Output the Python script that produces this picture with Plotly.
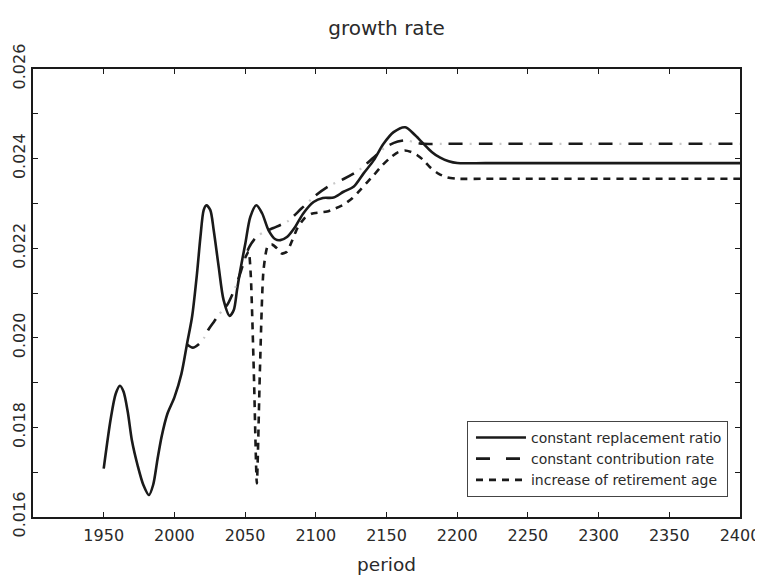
import plotly.graph_objects as go

# ---- data ----
years_replacement = [1950, 1955, 1958.5, 1961.5, 1964, 1967, 1970, 1974, 1978, 1982, 1985, 1988,
                     1991, 1995, 2000, 2005, 2009, 2012.5, 2016, 2018.4, 2020.7, 2022.6, 2025.4,
                     2027.8, 2031.3, 2034.8, 2039.1, 2042, 2044.3, 2046.6, 2050.2, 2053.7, 2058,
                     2062, 2066.6, 2071.4, 2074.9, 2079.6, 2085.5, 2091, 2098.4, 2105, 2112.6,
                     2119.6, 2126.7, 2133.8, 2140.9, 2147.9, 2155, 2163.3, 2170.3, 2176.2, 2182,
                     2188, 2194, 2200, 2220, 2260, 2300, 2350, 2400]
values_replacement = [0.01708, 0.01820, 0.01875, 0.01893, 0.01880, 0.01835, 0.01770, 0.01715,
                      0.01672, 0.01649, 0.01672, 0.01728, 0.01780, 0.01830, 0.01867, 0.01920,
                      0.01988, 0.02047, 0.02144, 0.02225, 0.02285, 0.02296, 0.02285, 0.02240,
                      0.02159, 0.02084, 0.02049, 0.02062, 0.02107, 0.02151, 0.02211, 0.02270,
                      0.02296, 0.02278, 0.02240, 0.02220, 0.02218, 0.02225, 0.02248, 0.02277,
                      0.02303, 0.02312, 0.02313, 0.02326, 0.02337, 0.02367, 0.02396, 0.02433,
                      0.02459, 0.02470, 0.02452, 0.02433, 0.02415, 0.02402, 0.02394, 0.02390,
                      0.02390, 0.02390, 0.02390, 0.02390, 0.02390]

years_contribution = [2009, 2013, 2017, 2021, 2024, 2028, 2031, 2035, 2038, 2043, 2047, 2050,
                      2053, 2058, 2064, 2070, 2080, 2090, 2100, 2110, 2120, 2130, 2140, 2150,
                      2158, 2164, 2170, 2176, 2190, 2220, 2260, 2300, 2350, 2400]
values_contribution = [0.01985, 0.01978, 0.01985, 0.02000, 0.02018, 0.02036, 0.02050, 0.02064,
                       0.02077, 0.02112, 0.02148, 0.02178, 0.02203, 0.02225, 0.02237, 0.02245,
                       0.02260, 0.02289, 0.02318, 0.02340, 0.02355, 0.02373, 0.02400, 0.02427,
                       0.02438, 0.02441, 0.02436, 0.02433, 0.02433, 0.02433, 0.02433, 0.02433,
                       0.02433, 0.02433]

years_retirement = [2050, 2052.5, 2054, 2056.2, 2058.3, 2060.5, 2063, 2066, 2069, 2072.5, 2076,
                    2079.5, 2083, 2087, 2092, 2097, 2103, 2108, 2114, 2120, 2126, 2130, 2136,
                    2141, 2147, 2153, 2158, 2163, 2168, 2172, 2176, 2181, 2187, 2193, 2200,
                    2220, 2260, 2300, 2350, 2400]
values_retirement = [0.02178, 0.02192, 0.02140, 0.01920, 0.01675, 0.01930, 0.02150, 0.02205,
                     0.02208, 0.02200, 0.02188, 0.02192, 0.02215, 0.02245, 0.02267, 0.02277,
                     0.02280, 0.02282, 0.02289, 0.02298, 0.02312, 0.02325, 0.02346, 0.02363,
                     0.02385, 0.02403, 0.02414, 0.02418, 0.02414, 0.02407, 0.02397, 0.02380,
                     0.02366, 0.02358, 0.02355, 0.02355, 0.02355, 0.02355, 0.02355, 0.02355]

series_names = ["constant replacement ratio", "constant contribution rate",
                "increase of retirement age"]

x_tickvals = [1950, 2000, 2050, 2100, 2150, 2200, 2250, 2300, 2350, 2400]
y_tickvals = [0.016, 0.018, 0.020, 0.022, 0.024, 0.026]
y_ticktext = ["0.016", "0.018", "0.020", "0.022", "0.024", "0.026"]
y_minor = [0.017, 0.019, 0.021, 0.023, 0.025]

FONT = "DejaVu Sans"
TXT = "#2a2a2a"
INK = "#1a1a1a"

# the page body adds an 8px margin at the top-left; size the figure so the plot
# area lands where the reference has it (x 33..740, y 69..517 in the window)
W, H = 763, 567

fig = go.Figure()

fig.add_trace(go.Scatter(
    x=years_replacement, y=values_replacement, mode="lines", name=series_names[0],
    line=dict(color=INK, width=2.6, shape="spline", smoothing=0.8)))

# faint dots between the long dashes of the dash-dot line
fig.add_trace(go.Scatter(
    x=years_contribution, y=values_contribution, mode="lines", showlegend=False,
    hoverinfo="skip",
    line=dict(color="#c8c8c8", width=2.2, shape="spline", smoothing=0.8,
              dash="0px,21px,2px,7px")))
fig.add_trace(go.Scatter(
    x=years_contribution, y=values_contribution, mode="lines", name=series_names[1],
    line=dict(color=INK, width=2.6, shape="spline", smoothing=0.8,
              dash="14px,16px")))

fig.add_trace(go.Scatter(
    x=years_retirement, y=values_retirement, mode="lines", name=series_names[2],
    line=dict(color=INK, width=2.6, shape="spline", smoothing=0.6,
              dash="7px,6px")))

axis_common = dict(
    showgrid=False, zeroline=False, showline=True, linecolor=INK, linewidth=2,
    mirror="ticks", ticks="inside", ticklen=5, tickwidth=1, tickcolor=INK,
    tickfont=dict(family=FONT, size=16, color=TXT),
    automargin=False, ticklabeloverflow="allow",
)

fig.update_layout(
    width=W, height=H,
    margin=dict(l=25, r=31, t=61, b=58),
    paper_bgcolor="white", plot_bgcolor="white",
    title=dict(text="growth rate", x=0.5, xref="paper", xanchor="center",
               y=1 - 20 / H, yref="container", yanchor="middle",
               font=dict(family=FONT, size=20, color=TXT)),
    xaxis=dict(range=[1900, 2400], tickmode="array", tickvals=x_tickvals,
               ticktext=[str(v) for v in x_tickvals],
               title=dict(text="period", standoff=14,
                          font=dict(family=FONT, size=18.5, color=TXT)),
               ticklabelstandoff=3,
               **axis_common),
    yaxis=dict(range=[0.016, 0.026], tickmode="array", tickvals=y_tickvals,
               ticktext=y_ticktext, tickangle=-90, ticklabelstandoff=0,
               minor=dict(tickvals=y_minor, ticks="inside", ticklen=5, tickwidth=1,
                          tickcolor=INK, showgrid=False),
               **axis_common),
    legend=dict(x=0.983, xanchor="right", y=0.045, yanchor="bottom",
                bgcolor="white", bordercolor="#444", borderwidth=1,
                font=dict(family=FONT, size=14, color=TXT),
                itemwidth=50, tracegroupgap=0, traceorder="normal", indentation=3),
    showlegend=True,
)

fig.write_html("out.html")
